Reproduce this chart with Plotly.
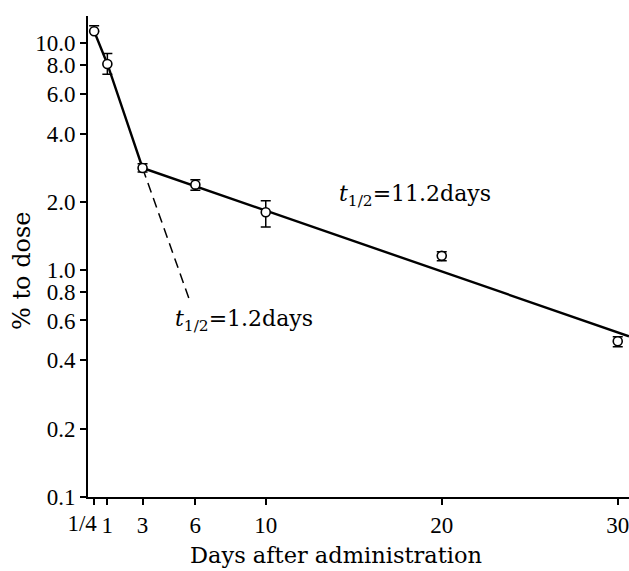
import plotly.graph_objects as go

# Measured data
days = [0.25, 1, 3, 6, 10, 20, 30]
pct_dose = [11.3, 8.1, 2.82, 2.38, 1.80, 1.156, 0.486]
err_plus = [0.65, 0.9, 0.12, 0.12, 0.22, 0.05, 0.022]
err_minus = [0.0, 0.8, 0.11, 0.13, 0.25, 0.057, 0.027]

# Fitted curve (solid) and fast-phase extrapolation (dashed)
fit_x = [0.25, 1, 3, 30.64]
fit_y = [11.3, 8.1, 2.82, 0.511]
fast_x = [3, 5.67]
fast_y = [2.82, 0.737]

# Axis ticks
x_tickvals = [0.25, 1, 3, 6, 10, 20, 30]
x_ticktext = ["", "1", "3", "6", "10", "20", "30"]
x_quarter_val = [0.25]
x_quarter_text = ["1/4"]
y_tickvals = [0.1, 0.2, 0.4, 0.6, 0.8, 1.0, 2.0, 4.0, 6.0, 8.0, 10.0]
y_ticktext = ["0.1", "0.2", "0.4", "0.6", "0.8", "1.0", "2.0", "4.0", "6.0", "8.0", "10.0"]

SERIF = "DejaVu Serif"
NUMF = "Liberation Serif"
X_RANGE = [-0.1, 30.64]

fig = go.Figure()

fig.add_trace(go.Scatter(
    x=fit_x, y=fit_y, mode="lines",
    line=dict(color="black", width=2.4),
    showlegend=False, hoverinfo="skip"))

fig.add_trace(go.Scatter(
    x=fast_x, y=fast_y, mode="lines",
    line=dict(color="black", width=1.5, dash="10px,6px"),
    showlegend=False, hoverinfo="skip"))

fig.add_trace(go.Scatter(
    x=days, y=pct_dose, mode="markers",
    marker=dict(symbol="circle", size=9, color="white",
                line=dict(color="black", width=1.6)),
    error_y=dict(type="data", symmetric=False, array=err_plus,
                 arrayminus=err_minus, color="black", thickness=1.5, width=5),
    cliponaxis=False,
    showlegend=False))

# invisible trace to activate the secondary x axis carrying the "1/4" label
fig.add_trace(go.Scatter(
    x=x_quarter_val, y=[pct_dose[0]], xaxis="x2", mode="markers",
    marker=dict(opacity=0), showlegend=False, hoverinfo="skip"))

fig.add_annotation(
    x=14.05, y=0.327, xref="x", yref="y", xanchor="left", yanchor="middle",
    text="<i>t</i><sub>1/2</sub>=11.2days", showarrow=False,
    font=dict(family=SERIF, size=22, color="black"))
fig.add_annotation(
    x=4.73, y=-0.221, xref="x", yref="y", xanchor="left", yanchor="middle",
    text="<i>t</i><sub>1/2</sub>=1.2days", showarrow=False,
    font=dict(family=SERIF, size=22, color="black"))

# axis titles
fig.add_annotation(
    x=0.458, y=-0.1206, xref="paper", yref="paper",
    xanchor="center", yanchor="middle", showarrow=False,
    text="Days after administration",
    font=dict(family=SERIF, size=22.5, color="black"))
fig.add_annotation(
    x=-0.122, y=0.472, xref="paper", yref="paper", textangle=-90,
    xanchor="center", yanchor="middle", showarrow=False,
    text="% to dose",
    font=dict(family=SERIF, size=24, color="black"))

fig.update_layout(
    width=629, height=571,
    margin=dict(l=88, r=0, t=16, b=74),
    paper_bgcolor="white", plot_bgcolor="white",
    showlegend=False,
    xaxis=dict(
        range=X_RANGE, showgrid=False, zeroline=False,
        showline=True, linecolor="black", linewidth=2,
        ticks="outside", ticklen=6, tickwidth=1.5, tickcolor="black",
        tickvals=x_tickvals, ticktext=x_ticktext, tickangle=0,
        ticklabeloverflow="allow",
        tickfont=dict(family=NUMF, size=23, color="black")),
    xaxis2=dict(
        range=X_RANGE, overlaying="x", side="bottom", anchor="y",
        showgrid=False, zeroline=False, showline=False, ticks="",
        tickvals=x_quarter_val, ticktext=x_quarter_text, tickangle=0,
        ticklabelshift=-12, ticklabelstandoff=10,
        tickfont=dict(family=NUMF, size=23, color="black")),
    yaxis=dict(
        type="log", range=[-1, 1.12], showgrid=False, zeroline=False,
        showline=True, linecolor="black", linewidth=2,
        ticks="outside", ticklen=6, tickwidth=1.5, tickcolor="black",
        tickvals=y_tickvals, ticktext=y_ticktext,
        tickfont=dict(family=NUMF, size=23, color="black")),
)

fig.write_html("out.html", config={"displayModeBar": False},
               post_script="document.body.style.margin='0';document.body.style.overflow='hidden';")
